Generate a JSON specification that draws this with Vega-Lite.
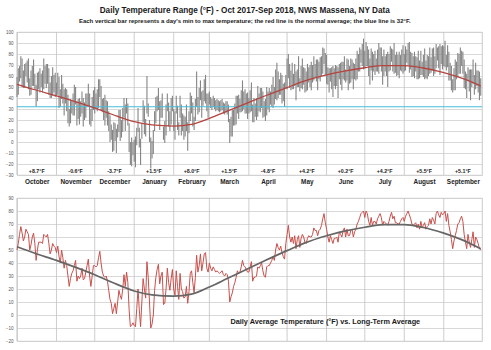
{
  "$schema": "https://vega.github.io/schema/vega-lite/v6.json",
  "background": "white",
  "padding": {"left": 4, "top": 6, "right": 10, "bottom": 10},
  "title": {
    "text": "Daily Temperature Range (°F) - Oct 2017-Sep 2018, NWS Massena, NY Data",
    "subtitle": "Each vertical bar represents a day's min to max temperature; the red line is the normal average; the blue line is 32°F.",
    "font": "Liberation Sans", "fontSize": 8.2, "fontWeight": "bold", "color": "#1a1a1a",
    "subtitleFont": "Liberation Sans", "subtitleFontSize": 6, "subtitleFontWeight": "bold", "subtitleColor": "#1a1a1a",
    "subtitlePadding": 2, "anchor": "middle", "offset": 4
  },
  "datasets": {
    "months": [
      {"m":"October","s":0,"mid":15.5,"a":"+8.7°F"},{"m":"November","s":31,"mid":46,"a":"-0.6°F"},{"m":"December","s":61,"mid":76.5,"a":"-3.7°F"},
      {"m":"January","s":92,"mid":107.5,"a":"+1.5°F"},{"m":"February","s":123,"mid":137,"a":"+8.0°F"},{"m":"March","s":151,"mid":166.5,"a":"+1.5°F"},
      {"m":"April","s":182,"mid":197,"a":"-4.8°F"},{"m":"May","s":212,"mid":227.5,"a":"+4.2°F"},{"m":"June","s":243,"mid":258,"a":"+0.2°F"},
      {"m":"July","s":273,"mid":288.5,"a":"+4.2°F"},{"m":"August","s":304,"mid":319.5,"a":"+5.5°F"},{"m":"September","s":335,"mid":350,"a":"+5.1°F"}
    ],
    "normal": [
      {"d":0,"n":52.5},{"d":14,"n":47.5},{"d":31,"n":42},{"d":45,"n":37},{"d":61,"n":31},{"d":75,"n":25},{"d":92,"n":18.5},{"d":106,"n":15.5},
      {"d":123,"n":14.5},{"d":137,"n":16},{"d":151,"n":21.5},{"d":165,"n":28},{"d":182,"n":36},{"d":196,"n":42.5},{"d":212,"n":49.5},{"d":226,"n":55.5},
      {"d":243,"n":61},{"d":257,"n":64.5},{"d":273,"n":67.5},{"d":287,"n":69.5},{"d":304,"n":69.5},{"d":318,"n":67.5},{"d":335,"n":63},{"d":349,"n":58},{"d":364,"n":51}
    ],
    "days": [
{"d":0,"lo":41,"hi":59,"avg":50},{"d":1,"lo":43,"hi":67,"avg":55},{"d":2,"lo":55,"hi":69,"avg":62},{"d":3,"lo":58,"hi":78,"avg":68},{"d":4,"lo":50,"hi":76,"avg":63},
{"d":5,"lo":49,"hi":65,"avg":57},{"d":6,"lo":49,"hi":71,"avg":60},{"d":7,"lo":60,"hi":72,"avg":66},{"d":8,"lo":54,"hi":74,"avg":64},{"d":9,"lo":48,"hi":76,"avg":62},
{"d":10,"lo":42,"hi":58,"avg":50},{"d":11,"lo":43,"hi":65,"avg":54},{"d":12,"lo":51,"hi":69,"avg":60},{"d":13,"lo":51,"hi":75,"avg":63},{"d":14,"lo":48,"hi":62,"avg":55},
{"d":15,"lo":32,"hi":52,"avg":42},{"d":16,"lo":37,"hi":63,"avg":50},{"d":17,"lo":48,"hi":64,"avg":56},{"d":18,"lo":45,"hi":67,"avg":56},{"d":19,"lo":50,"hi":62,"avg":56},
{"d":20,"lo":45,"hi":65,"avg":55},{"d":21,"lo":48,"hi":76,"avg":62},{"d":22,"lo":53,"hi":69,"avg":61},{"d":23,"lo":49,"hi":71,"avg":60},{"d":24,"lo":53,"hi":71,"avg":62},
{"d":25,"lo":43,"hi":67,"avg":55},{"d":26,"lo":40,"hi":54,"avg":47},{"d":27,"lo":40,"hi":60,"avg":50},{"d":28,"lo":42,"hi":68,"avg":55},{"d":29,"lo":45,"hi":61,"avg":53},
{"d":30,"lo":41,"hi":63,"avg":52},{"d":31,"lo":42,"hi":54,"avg":48},{"d":32,"lo":43,"hi":63,"avg":53},{"d":33,"lo":31,"hi":59,"avg":45},{"d":34,"lo":32,"hi":48,"avg":40},
{"d":35,"lo":39,"hi":61,"avg":50},{"d":36,"lo":35,"hi":53,"avg":44},{"d":37,"lo":24,"hi":48,"avg":36},{"d":38,"lo":35,"hi":49,"avg":42},{"d":39,"lo":28,"hi":48,"avg":38},
{"d":40,"lo":17,"hi":43,"avg":30},{"d":41,"lo":14,"hi":30,"avg":22},{"d":42,"lo":17,"hi":39,"avg":28},{"d":43,"lo":26,"hi":38,"avg":32},{"d":44,"lo":24,"hi":44,"avg":34},
{"d":45,"lo":24,"hi":52,"avg":38},{"d":46,"lo":34,"hi":50,"avg":42},{"d":47,"lo":15,"hi":37,"avg":26},{"d":48,"lo":21,"hi":39,"avg":30},{"d":49,"lo":16,"hi":40,"avg":28},
{"d":50,"lo":23,"hi":37,"avg":30},{"d":51,"lo":26,"hi":46,"avg":36},{"d":52,"lo":14,"hi":40,"avg":27},{"d":53,"lo":20,"hi":36,"avg":28},{"d":54,"lo":22,"hi":44,"avg":33},
{"d":55,"lo":32,"hi":44,"avg":38},{"d":56,"lo":33,"hi":53,"avg":43},{"d":57,"lo":16,"hi":44,"avg":30},{"d":58,"lo":14,"hi":30,"avg":22},{"d":59,"lo":19,"hi":41,"avg":30},
{"d":60,"lo":29,"hi":47,"avg":38},{"d":61,"lo":26,"hi":50,"avg":38},{"d":62,"lo":30,"hi":44,"avg":37},{"d":63,"lo":28,"hi":48,"avg":38},{"d":64,"lo":31,"hi":57,"avg":44},
{"d":65,"lo":41,"hi":57,"avg":49},{"d":66,"lo":29,"hi":51,"avg":40},{"d":67,"lo":27,"hi":39,"avg":33},{"d":68,"lo":20,"hi":40,"avg":30},{"d":69,"lo":15,"hi":43,"avg":29},
{"d":70,"lo":22,"hi":38,"avg":30},{"d":71,"lo":15,"hi":37,"avg":26},{"d":72,"lo":10,"hi":28,"avg":19},{"d":73,"lo":0,"hi":24,"avg":12},{"d":74,"lo":2,"hi":16,"avg":9},
{"d":75,"lo":-9,"hi":11,"avg":1},{"d":76,"lo":-8,"hi":18,"avg":5},{"d":77,"lo":1,"hi":17,"avg":9},{"d":78,"lo":-10,"hi":12,"avg":1},{"d":79,"lo":4,"hi":16,"avg":10},
{"d":80,"lo":9,"hi":29,"avg":19},{"d":81,"lo":1,"hi":29,"avg":15},{"d":82,"lo":4,"hi":20,"avg":12},{"d":83,"lo":9,"hi":31,"avg":20},{"d":84,"lo":22,"hi":40,"avg":31},
{"d":85,"lo":10,"hi":34,"avg":22},{"d":86,"lo":26,"hi":40,"avg":33},{"d":87,"lo":15,"hi":35,"avg":25},{"d":88,"lo":-9,"hi":17,"avg":4},{"d":89,"lo":-21,"hi":0,"avg":-9},
{"d":90,"lo":-22,"hi":4,"avg":-8},{"d":91,"lo":-12,"hi":0,"avg":-6},{"d":92,"lo":-18,"hi":2,"avg":-8},{"d":93,"lo":-23,"hi":5,"avg":-9},{"d":94,"lo":-3,"hi":13,"avg":5},
{"d":95,"lo":9,"hi":31,"avg":20},{"d":96,"lo":-5,"hi":13,"avg":4},{"d":97,"lo":-21,"hi":3,"avg":-9},{"d":98,"lo":3,"hi":17,"avg":10},{"d":99,"lo":18,"hi":38,"avg":28},
{"d":100,"lo":7,"hi":33,"avg":20},{"d":101,"lo":5,"hi":21,"avg":13},{"d":102,"lo":26,"hi":60,"avg":41},{"d":103,"lo":23,"hi":35,"avg":29},{"d":104,"lo":0,"hi":20,"avg":10},
{"d":105,"lo":-24,"hi":4,"avg":-10},{"d":106,"lo":-15,"hi":1,"avg":-7},{"d":107,"lo":-11,"hi":11,"avg":0},{"d":108,"lo":10,"hi":28,"avg":19},{"d":109,"lo":17,"hi":41,"avg":29},
{"d":110,"lo":28,"hi":42,"avg":35},{"d":111,"lo":29,"hi":49,"avg":39},{"d":112,"lo":11,"hi":37,"avg":24},{"d":113,"lo":22,"hi":38,"avg":30},{"d":114,"lo":22,"hi":44,"avg":33},
{"d":115,"lo":2,"hi":14,"avg":8},{"d":116,"lo":-1,"hi":19,"avg":9},{"d":117,"lo":6,"hi":34,"avg":20},{"d":118,"lo":28,"hi":44,"avg":36},{"d":119,"lo":14,"hi":36,"avg":25},
{"d":120,"lo":10,"hi":28,"avg":19},{"d":121,"lo":16,"hi":40,"avg":28},{"d":122,"lo":28,"hi":42,"avg":35},{"d":123,"lo":10,"hi":30,"avg":20},{"d":124,"lo":2,"hi":28,"avg":15},
{"d":125,"lo":26,"hi":42,"avg":34},{"d":126,"lo":11,"hi":33,"avg":22},{"d":127,"lo":6,"hi":18,"avg":12},{"d":128,"lo":22,"hi":42,"avg":32},{"d":129,"lo":6,"hi":34,"avg":20},
{"d":130,"lo":10,"hi":26,"avg":18},{"d":131,"lo":2,"hi":24,"avg":13},{"d":132,"lo":5,"hi":23,"avg":14},{"d":133,"lo":10,"hi":34,"avg":22},{"d":134,"lo":-8,"hi":18,"avg":9},
{"d":135,"lo":8,"hi":28,"avg":18},{"d":136,"lo":19,"hi":45,"avg":32},{"d":137,"lo":26,"hi":42,"avg":34},{"d":138,"lo":14,"hi":36,"avg":25},{"d":139,"lo":11,"hi":23,"avg":17},
{"d":140,"lo":19,"hi":39,"avg":29},{"d":141,"lo":32,"hi":64,"avg":46},{"d":142,"lo":25,"hi":41,"avg":33},{"d":143,"lo":27,"hi":49,"avg":38},{"d":144,"lo":38,"hi":56,"avg":47},
{"d":145,"lo":22,"hi":46,"avg":34},{"d":146,"lo":33,"hi":47,"avg":40},{"d":147,"lo":37,"hi":57,"avg":47},{"d":148,"lo":35,"hi":61,"avg":48},{"d":149,"lo":28,"hi":44,"avg":36},
{"d":150,"lo":22,"hi":44,"avg":33},{"d":151,"lo":34,"hi":46,"avg":40},{"d":152,"lo":31,"hi":41,"avg":36},{"d":153,"lo":29,"hi":39,"avg":34},{"d":154,"lo":32,"hi":42,"avg":37},
{"d":155,"lo":30,"hi":40,"avg":35},{"d":156,"lo":28,"hi":38,"avg":33},{"d":157,"lo":29,"hi":39,"avg":34},{"d":158,"lo":28,"hi":38,"avg":33},{"d":159,"lo":27,"hi":37,"avg":32},
{"d":160,"lo":28,"hi":38,"avg":33},{"d":161,"lo":29,"hi":39,"avg":34},{"d":162,"lo":26,"hi":36,"avg":31},{"d":163,"lo":25,"hi":35,"avg":30},{"d":164,"lo":27,"hi":37,"avg":32},
{"d":165,"lo":25,"hi":37,"avg":31},{"d":166,"lo":18,"hi":34,"avg":26},{"d":167,"lo":-1,"hi":21,"avg":10},{"d":168,"lo":5,"hi":23,"avg":14},{"d":169,"lo":5,"hi":29,"avg":17},
{"d":170,"lo":15,"hi":29,"avg":22},{"d":171,"lo":15,"hi":35,"avg":25},{"d":172,"lo":16,"hi":42,"avg":29},{"d":173,"lo":26,"hi":42,"avg":34},{"d":174,"lo":21,"hi":43,"avg":32},
{"d":175,"lo":27,"hi":39,"avg":33},{"d":176,"lo":27,"hi":47,"avg":37},{"d":177,"lo":28,"hi":56,"avg":42},{"d":178,"lo":30,"hi":46,"avg":38},{"d":179,"lo":26,"hi":48,"avg":37},
{"d":180,"lo":26,"hi":44,"avg":35},{"d":181,"lo":21,"hi":45,"avg":33},{"d":182,"lo":26,"hi":40,"avg":33},{"d":183,"lo":27,"hi":47,"avg":37},{"d":184,"lo":28,"hi":54,"avg":41},
{"d":185,"lo":18,"hi":34,"avg":26},{"d":186,"lo":18,"hi":40,"avg":29},{"d":187,"lo":23,"hi":35,"avg":29},{"d":188,"lo":20,"hi":40,"avg":30},{"d":189,"lo":23,"hi":51,"avg":37},
{"d":190,"lo":28,"hi":44,"avg":36},{"d":191,"lo":27,"hi":49,"avg":38},{"d":192,"lo":31,"hi":49,"avg":40},{"d":193,"lo":22,"hi":46,"avg":34},{"d":194,"lo":23,"hi":37,"avg":30},
{"d":195,"lo":19,"hi":39,"avg":29},{"d":196,"lo":24,"hi":50,"avg":37},{"d":197,"lo":30,"hi":46,"avg":38},{"d":198,"lo":27,"hi":49,"avg":38},{"d":199,"lo":34,"hi":46,"avg":40},
{"d":200,"lo":32,"hi":52,"avg":42},{"d":201,"lo":31,"hi":59,"avg":45},{"d":202,"lo":34,"hi":50,"avg":42},{"d":203,"lo":39,"hi":66,"avg":50},{"d":204,"lo":38,"hi":72,"avg":55},
{"d":205,"lo":40,"hi":64,"avg":52},{"d":206,"lo":43,"hi":57,"avg":50},{"d":207,"lo":43,"hi":63,"avg":53},{"d":208,"lo":35,"hi":61,"avg":48},{"d":209,"lo":37,"hi":53,"avg":45},
{"d":210,"lo":32,"hi":54,"avg":43},{"d":211,"lo":49,"hi":61,"avg":55},{"d":212,"lo":48,"hi":76,"avg":62},{"d":213,"lo":58,"hi":80,"avg":69},{"d":214,"lo":49,"hi":71,"avg":60},
{"d":215,"lo":47,"hi":65,"avg":56},{"d":216,"lo":48,"hi":72,"avg":60},{"d":217,"lo":48,"hi":62,"avg":55},{"d":218,"lo":51,"hi":71,"avg":61},{"d":219,"lo":38,"hi":64,"avg":51},
{"d":220,"lo":50,"hi":66,"avg":58},{"d":221,"lo":50,"hi":78,"avg":61},{"d":222,"lo":46,"hi":58,"avg":52},{"d":223,"lo":49,"hi":69,"avg":59},{"d":224,"lo":48,"hi":76,"avg":62},
{"d":225,"lo":52,"hi":68,"avg":60},{"d":226,"lo":45,"hi":67,"avg":56},{"d":227,"lo":46,"hi":64,"avg":55},{"d":228,"lo":47,"hi":71,"avg":59},{"d":229,"lo":54,"hi":68,"avg":61},
{"d":230,"lo":50,"hi":70,"avg":60},{"d":231,"lo":47,"hi":73,"avg":60},{"d":232,"lo":54,"hi":70,"avg":62},{"d":233,"lo":56,"hi":78,"avg":67},{"d":234,"lo":59,"hi":71,"avg":65},
{"d":235,"lo":55,"hi":75,"avg":65},{"d":236,"lo":47,"hi":75,"avg":61},{"d":237,"lo":57,"hi":73,"avg":65},{"d":238,"lo":55,"hi":77,"avg":66},{"d":239,"lo":60,"hi":78,"avg":69},
{"d":240,"lo":62,"hi":86,"avg":74},{"d":241,"lo":71,"hi":85,"avg":78},{"d":242,"lo":61,"hi":81,"avg":71},{"d":243,"lo":53,"hi":79,"avg":66},{"d":244,"lo":52,"hi":68,"avg":60},
{"d":245,"lo":45,"hi":67,"avg":56},{"d":246,"lo":55,"hi":67,"avg":61},{"d":247,"lo":48,"hi":68,"avg":58},{"d":248,"lo":41,"hi":69,"avg":55},{"d":249,"lo":51,"hi":67,"avg":59},
{"d":250,"lo":48,"hi":70,"avg":59},{"d":251,"lo":51,"hi":69,"avg":60},{"d":252,"lo":40,"hi":68,"avg":56},{"d":253,"lo":57,"hi":71,"avg":64},{"d":254,"lo":52,"hi":72,"avg":62},
{"d":255,"lo":47,"hi":73,"avg":60},{"d":256,"lo":57,"hi":73,"avg":65},{"d":257,"lo":56,"hi":78,"avg":67},{"d":258,"lo":54,"hi":66,"avg":60},{"d":259,"lo":56,"hi":76,"avg":66},
{"d":260,"lo":47,"hi":75,"avg":61},{"d":261,"lo":53,"hi":69,"avg":61},{"d":262,"lo":54,"hi":76,"avg":65},{"d":263,"lo":57,"hi":75,"avg":66},{"d":264,"lo":48,"hi":72,"avg":60},
{"d":265,"lo":57,"hi":71,"avg":64},{"d":266,"lo":56,"hi":76,"avg":66},{"d":267,"lo":57,"hi":83,"avg":70},{"d":268,"lo":64,"hi":80,"avg":72},{"d":269,"lo":64,"hi":86,"avg":75},
{"d":270,"lo":72,"hi":84,"avg":78},{"d":271,"lo":69,"hi":89,"avg":79},{"d":272,"lo":66,"hi":94,"avg":80},{"d":273,"lo":67,"hi":83,"avg":75},{"d":274,"lo":69,"hi":91,"avg":80},
{"d":275,"lo":69,"hi":87,"avg":78},{"d":276,"lo":60,"hi":84,"avg":72},{"d":277,"lo":52,"hi":76,"avg":69},{"d":278,"lo":65,"hi":85,"avg":75},{"d":279,"lo":56,"hi":82,"avg":69},
{"d":280,"lo":64,"hi":80,"avg":72},{"d":281,"lo":61,"hi":83,"avg":72},{"d":282,"lo":64,"hi":76,"avg":70},{"d":283,"lo":64,"hi":84,"avg":74},{"d":284,"lo":62,"hi":90,"avg":76},
{"d":285,"lo":70,"hi":86,"avg":78},{"d":286,"lo":64,"hi":86,"avg":75},{"d":287,"lo":52,"hi":78,"avg":69},{"d":288,"lo":60,"hi":84,"avg":72},{"d":289,"lo":64,"hi":78,"avg":71},
{"d":290,"lo":60,"hi":80,"avg":70},{"d":291,"lo":50,"hi":82,"avg":69},{"d":292,"lo":64,"hi":80,"avg":72},{"d":293,"lo":65,"hi":87,"avg":76},{"d":294,"lo":73,"hi":85,"avg":79},
{"d":295,"lo":64,"hi":84,"avg":74},{"d":296,"lo":62,"hi":90,"avg":76},{"d":297,"lo":63,"hi":79,"avg":71},{"d":298,"lo":60,"hi":82,"avg":71},{"d":299,"lo":61,"hi":79,"avg":70},
{"d":300,"lo":58,"hi":82,"avg":70},{"d":301,"lo":65,"hi":79,"avg":72},{"d":302,"lo":64,"hi":84,"avg":74},{"d":303,"lo":62,"hi":88,"avg":75},{"d":304,"lo":64,"hi":80,"avg":72},
{"d":305,"lo":65,"hi":87,"avg":76},{"d":306,"lo":72,"hi":84,"avg":78},{"d":307,"lo":70,"hi":90,"avg":80},{"d":308,"lo":63,"hi":91,"avg":77},{"d":309,"lo":66,"hi":82,"avg":74},
{"d":310,"lo":59,"hi":81,"avg":70},{"d":311,"lo":60,"hi":78,"avg":69},{"d":312,"lo":58,"hi":82,"avg":70},{"d":313,"lo":64,"hi":78,"avg":71},{"d":314,"lo":57,"hi":77,"avg":67},
{"d":315,"lo":57,"hi":83,"avg":70},{"d":316,"lo":58,"hi":74,"avg":66},{"d":317,"lo":61,"hi":83,"avg":72},{"d":318,"lo":61,"hi":73,"avg":67},{"d":319,"lo":59,"hi":79,"avg":69},
{"d":320,"lo":57,"hi":85,"avg":71},{"d":321,"lo":58,"hi":74,"avg":66},{"d":322,"lo":57,"hi":79,"avg":68},{"d":323,"lo":60,"hi":78,"avg":69},{"d":324,"lo":62,"hi":86,"avg":74},
{"d":325,"lo":63,"hi":77,"avg":70},{"d":326,"lo":65,"hi":85,"avg":75},{"d":327,"lo":60,"hi":86,"avg":73},{"d":328,"lo":62,"hi":78,"avg":70},{"d":329,"lo":67,"hi":89,"avg":78},
{"d":330,"lo":74,"hi":86,"avg":80},{"d":331,"lo":67,"hi":87,"avg":77},{"d":332,"lo":61,"hi":89,"avg":75},{"d":333,"lo":71,"hi":87,"avg":79},{"d":334,"lo":66,"hi":88,"avg":77},
{"d":335,"lo":69,"hi":87,"avg":78},{"d":336,"lo":68,"hi":92,"avg":80},{"d":337,"lo":65,"hi":79,"avg":72},{"d":338,"lo":68,"hi":88,"avg":78},{"d":339,"lo":56,"hi":82,"avg":69},
{"d":340,"lo":56,"hi":72,"avg":64},{"d":341,"lo":47,"hi":69,"avg":58},{"d":342,"lo":45,"hi":57,"avg":51},{"d":343,"lo":47,"hi":67,"avg":57},{"d":344,"lo":47,"hi":75,"avg":61},
{"d":345,"lo":57,"hi":73,"avg":65},{"d":346,"lo":59,"hi":81,"avg":70},{"d":347,"lo":62,"hi":80,"avg":71},{"d":348,"lo":62,"hi":86,"avg":74},{"d":349,"lo":69,"hi":83,"avg":76},
{"d":350,"lo":62,"hi":82,"avg":72},{"d":351,"lo":49,"hi":75,"avg":62},{"d":352,"lo":48,"hi":64,"avg":56},{"d":353,"lo":40,"hi":62,"avg":51},{"d":354,"lo":56,"hi":68,"avg":62},
{"d":355,"lo":46,"hi":66,"avg":56},{"d":356,"lo":38,"hi":66,"avg":52},{"d":357,"lo":50,"hi":66,"avg":58},{"d":358,"lo":53,"hi":75,"avg":64},{"d":359,"lo":43,"hi":61,"avg":52},
{"d":360,"lo":48,"hi":72,"avg":60},{"d":361,"lo":51,"hi":65,"avg":58},{"d":362,"lo":45,"hi":65,"avg":55},{"d":363,"lo":38,"hi":64,"avg":51},{"d":364,"lo":42,"hi":58,"avg":50}
    ]
  },
  "spacing": 9,
  "vconcat": [
    {
      "width": 465,
      "height": 143,
      "layer": [
        {
          "data": {"name": "months"},
          "mark": {"type": "rule", "color": "#c2c2c2", "strokeWidth": 0.8},
          "encoding": {
            "x": {
              "field": "s", "type": "quantitative",
              "scale": {"domain": [0, 365], "nice": false, "zero": false},
              "axis": {
                "values": [15.5, 46, 76.5, 107.5, 137, 166.5, 197, 227.5, 258, 288.5, 319.5, 350],
                "tickCount": 20,
                "labelExpr": "datum.value < 31 ? 'October' : datum.value < 61 ? 'November' : datum.value < 92 ? 'December' : datum.value < 123 ? 'January' : datum.value < 151 ? 'February' : datum.value < 182 ? 'March' : datum.value < 212 ? 'April' : datum.value < 243 ? 'May' : datum.value < 273 ? 'June' : datum.value < 304 ? 'July' : datum.value < 335 ? 'August' : 'September'",
                "grid": false, "ticks": false, "domain": false, "title": null,
                "labelFont": "Liberation Sans", "labelFontSize": 6.4, "labelFontWeight": "bold",
                "labelColor": "#222222", "labelPadding": 3, "labelOverlap": false, "labelFlush": false
              }
            }
          }
        },
        {
          "data": {"name": "days"},
          "mark": {"type": "rule", "color": "#858585", "strokeWidth": 1.1},
          "encoding": {
            "x": {"field": "d", "type": "quantitative", "scale": {"domain": [0, 365], "nice": false, "zero": false}},
            "y": {
              "field": "lo", "type": "quantitative",
              "scale": {"domain": [-30, 100], "nice": false, "zero": false},
              "axis": {
                "values": [-30, -20, -10, 0, 10, 20, 30, 40, 50, 60, 70, 80, 90, 100],
                "tickCount": 20,
                "title": null, "ticks": false, "domain": false, "grid": true,
                "gridColor": "#cfcfcf", "gridWidth": 0.8, "labelOverlap": false, "labelFlush": false,
                "labelFont": "Liberation Sans", "labelFontSize": 4.5, "labelColor": "#555555", "labelPadding": 4
              }
            },
            "y2": {"field": "hi"}
          }
        },
        {
          "data": {"values": [{}]},
          "mark": {"type": "rule", "color": "#46bcd6", "strokeWidth": 1.1},
          "encoding": {"y": {"datum": 32}}
        },
        {
          "data": {"name": "normal"},
          "mark": {"type": "line", "color": "#b5443f", "strokeWidth": 1.3, "interpolate": "monotone"},
          "encoding": {
            "x": {"field": "d", "type": "quantitative", "scale": {"domain": [0, 365], "nice": false, "zero": false}},
            "y": {"field": "n", "type": "quantitative"}
          }
        },
        {
          "data": {"name": "months"},
          "mark": {"type": "text", "font": "Liberation Sans", "fontSize": 5.3, "fontWeight": "bold", "color": "#222222", "baseline": "middle"},
          "encoding": {
            "x": {"field": "mid", "type": "quantitative", "scale": {"domain": [0, 365], "nice": false, "zero": false}},
            "y": {"datum": -26},
            "text": {"field": "a"}
          }
        }
      ]
    },
    {
      "width": 465,
      "height": 143,
      "layer": [
        {
          "data": {"name": "months"},
          "mark": {"type": "rule", "color": "#c2c2c2", "strokeWidth": 0.8},
          "encoding": {
            "x": {"field": "s", "type": "quantitative", "scale": {"domain": [0, 365], "nice": false, "zero": false}, "axis": null}
          }
        },
        {
          "data": {"name": "days"},
          "mark": {"type": "line", "color": "#c8504c", "strokeWidth": 1},
          "encoding": {
            "x": {"field": "d", "type": "quantitative", "scale": {"domain": [0, 365], "nice": false, "zero": false}, "axis": null},
            "y": {
              "field": "avg", "type": "quantitative",
              "scale": {"domain": [-20, 90], "nice": false, "zero": false},
              "axis": {
                "values": [-20, -10, 0, 10, 20, 30, 40, 50, 60, 70, 80, 90],
                "tickCount": 20,
                "title": null, "ticks": false, "domain": false, "grid": true,
                "gridColor": "#cfcfcf", "gridWidth": 0.8, "labelOverlap": false, "labelFlush": false,
                "labelFont": "Liberation Sans", "labelFontSize": 4.5, "labelColor": "#555555", "labelPadding": 4
              }
            }
          }
        },
        {
          "data": {"name": "normal"},
          "mark": {"type": "line", "color": "#666666", "strokeWidth": 1.7, "interpolate": "monotone"},
          "encoding": {
            "x": {"field": "d", "type": "quantitative", "scale": {"domain": [0, 365], "nice": false, "zero": false}},
            "y": {"field": "n", "type": "quantitative"}
          }
        },
        {
          "data": {"values": [{}]},
          "mark": {"type": "text", "font": "Liberation Sans", "fontSize": 7.3, "fontWeight": "bold", "color": "#1a1a1a", "baseline": "middle", "align": "center"},
          "encoding": {
            "x": {"datum": 242},
            "y": {"datum": -5.5},
            "text": {"value": "Daily Average Temperature (°F) vs. Long-Term Average"}
          }
        }
      ]
    }
  ],
  "config": {
    "view": {"stroke": "#bfbfbf", "strokeWidth": 0.8}
  }
}
